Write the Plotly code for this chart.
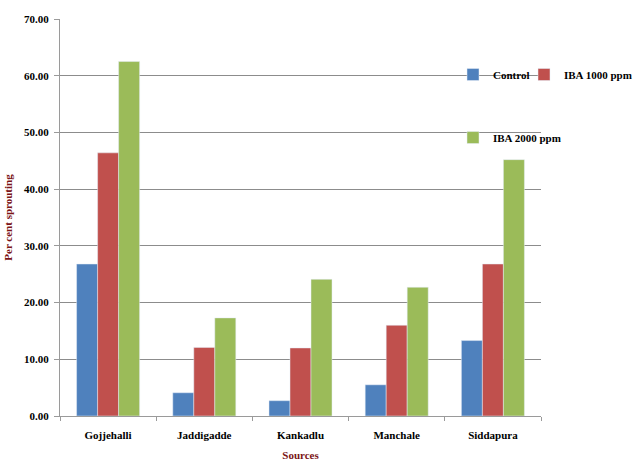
import plotly.graph_objects as go

categories = ["Gojjehalli", "Jaddigadde", "Kankadlu", "Manchale", "Siddapura"]
control = [26.8, 4.1, 2.7, 5.5, 13.3]
iba1000 = [46.4, 12.1, 12.0, 16.0, 26.8]
iba2000 = [62.5, 17.3, 24.1, 22.7, 45.2]
series_names = ["Control", "IBA 1000 ppm", "IBA 2000 ppm"]
y_ticks = [0, 10, 20, 30, 40, 50, 60, 70]

colors = ["#4F81BD", "#C0504D", "#9BBB59"]
FONT = "Liberation Serif"

fig = go.Figure()
fig.add_trace(go.Bar(x=categories, y=control, name=series_names[0], marker_color=colors[0], legend="legend", showlegend=True))
fig.add_trace(go.Bar(x=categories, y=iba1000, name=series_names[1], marker_color=colors[1], legend="legend2", showlegend=True))
fig.add_trace(go.Bar(x=categories, y=iba2000, name=series_names[2], marker_color=colors[2], legend="legend3", showlegend=True))

L, R, T, B = 60, 98, 19, 48
W, H = 639, 464
pw = W - L - R
ph = H - T - B

def px_x(p):
    return (p - L) / pw

def px_y(p):
    return (H - B - p) / ph

legend_font = dict(family=FONT, size=11, color="black", weight="bold")

def leg(xp, yp):
    return dict(orientation="h", x=px_x(xp), y=px_y(yp), xanchor="left", yanchor="top",
                font=legend_font, bgcolor="rgba(0,0,0,0)", visible=True)

fig.update_layout(
    width=W, height=H,
    showlegend=True,
    margin=dict(l=L, r=R, t=T, b=B, autoexpand=False),
    paper_bgcolor="white", plot_bgcolor="white",
    barmode="group", bargap=0.345, bargroupgap=0,
    font=dict(family=FONT, size=11, color="black"),
    legend=leg(453, 60),
    legend2=leg(524, 60),
    legend3=leg(453, 123),
    xaxis=dict(
        type="category", showline=True, linecolor="#9a9a9a", linewidth=1,
        ticks="outside", tickson="boundaries", ticklen=4, tickcolor="#9a9a9a",
        ticklabelstandoff=9,
        tickfont=dict(family=FONT, size=11, color="black", weight="bold"),
        title=dict(text="Sources", font=dict(family=FONT, size=11, color="#7B1416", weight="bold"), standoff=11),
    ),
    yaxis=dict(
        range=[0, 70], tickvals=y_ticks, tickformat=".2f",
        showgrid=True, gridcolor="#8c8c8c", gridwidth=1,
        showline=True, linecolor="#9a9a9a", linewidth=1,
        ticks="outside", ticklen=5, tickcolor="#9a9a9a",
        ticklabelstandoff=3,
        tickfont=dict(family=FONT, size=11, color="black", weight="bold"),
        title=dict(text="Per cent sprouting", font=dict(family=FONT, size=11, color="#7B1416", weight="bold"), standoff=9),
        zeroline=False,
    ),
)

fig.write_html("out.html")
